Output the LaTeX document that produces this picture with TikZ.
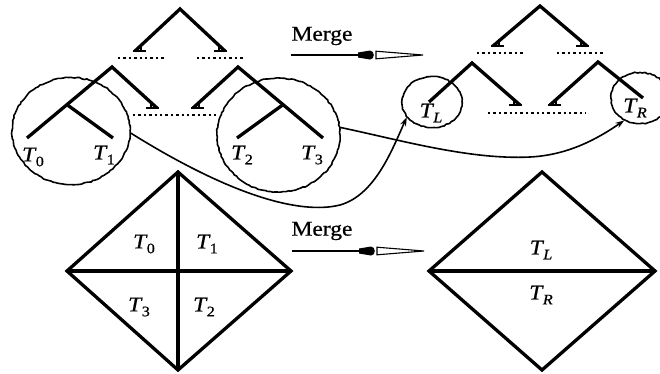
\documentclass[tikz,border=0pt]{standalone}
\usepackage{fontspec}
\setmainfont{Liberation Serif}
\newfontfamily\labfont[FakeStretch=1.12,FakeBold=0.6]{Liberation Serif}
\usetikzlibrary{calc,arrows.meta,shapes.geometric,decorations.pathmorphing}
\newcommand\TT[1]{\textit{T}\kern-0.04em\raisebox{-0.5ex}{\fontsize{14.5}{14.5}\selectfont #1}}
\begin{document}
\begin{tikzpicture}[x=1pt,y=-1pt,
  br/.style={line width=3.3pt,line cap=butt},
  tk/.style={line width=2.6pt},
  dots/.style={line width=2.6pt,dash pattern=on 2.4pt off 3pt},
  ring/.style={ellipse,draw,line width=1.6pt,inner sep=0pt,
     decorate,decoration={random steps,segment length=2.5pt,amplitude=0.6pt}},
  conn/.style={line width=1.6pt,-{Stealth[length=9pt,width=6pt]}},
  lab/.style={font=\labfont\fontsize{21}{21}\selectfont,inner sep=0pt},
  dia/.style={line width=3.3pt,line join=miter}]
\useasboundingbox (0,0) rectangle (660,373);

% ---------- left tree ----------
\coordinate (a) at (180,9);
\coordinate (a1) at (135,51);
\coordinate (a2) at (225,51);
\draw[br] (a1) -- (a) -- (a2);
\draw[tk] ($(a1)+(-2,0)$) -- ++(13,0) ($(a1)+(6,0)$) -- ++(0,-7);
\draw[tk] ($(a2)+(2,0)$) -- ++(-13,0) ($(a2)+(-6,0)$) -- ++(0,-7);
\coordinate (d1s) at (118,58); \coordinate (d1e) at (164,58);
\coordinate (d2s) at (197,58); \coordinate (d2e) at (243,58);
\draw[dots] (d1s) -- (d1e);
\draw[dots] (d2s) -- (d2e);

\coordinate (la) at (112,67);
\coordinate (l0) at (27,138);
\coordinate (lm) at ($(la)!0.53!(l0)$);
\coordinate (l1) at (113,138);
\coordinate (lr) at (157,108);
\draw[br] (l0) -- (la) -- (lr);
\draw[br] (lm) -- (l1);
\draw[tk] ($(lr)+(2,0)$) -- ++(-13,0) ($(lr)+(-6,0)$) -- ++(0,-7);

\coordinate (ra) at (238,67);
\coordinate (r3) at (323,138);
\coordinate (rm) at ($(ra)!0.53!(r3)$);
\coordinate (r2) at (237,138);
\coordinate (rl) at (193,108);
\draw[br] (rl) -- (ra) -- (r3);
\draw[br] (rm) -- (r2);
\draw[tk] ($(rl)+(-2,0)$) -- ++(13,0) ($(rl)+(6,0)$) -- ++(0,-7);
\coordinate (d3s) at (133,115); \coordinate (d3e) at (216,115);
\draw[dots] (d3s) -- (d3e);

\node[lab] (t0) at (33,157) {\TT{0}};
\node[lab] (t1) at (104,155) {\TT{1}};
\node[lab] (t2) at (242,155) {\TT{2}};
\node[lab] (t3) at (312,155) {\TT{3}};

\node[ring,minimum width=118pt,minimum height=107pt] (lc) at (71,131) {};
\node[ring,minimum width=123pt,minimum height=114pt] (rc) at (278.5,135) {};

% ---------- right tree ----------
\coordinate (b) at (540,6);
\coordinate (b1) at (493,46);
\coordinate (b2) at (587,46);
\draw[br] (b1) -- (b) -- (b2);
\draw[tk] ($(b1)+(-2,0)$) -- ++(13,0) ($(b1)+(6,0)$) -- ++(0,-7);
\draw[tk] ($(b2)+(2,0)$) -- ++(-13,0) ($(b2)+(-6,0)$) -- ++(0,-7);
\coordinate (e1s) at (477,53); \coordinate (e1e) at (523,53);
\coordinate (e2s) at (557,53); \coordinate (e2e) at (604,53);
\draw[dots] (e1s) -- (e1e);
\draw[dots] (e2s) -- (e2e);

\coordinate (ba) at (472,63);
\coordinate (bl) at (429,102);
\coordinate (br1) at (520,105);
\draw[br] (bl) -- (ba) -- (br1);
\draw[tk] ($(br1)+(2,0)$) -- ++(-13,0) ($(br1)+(-6,0)$) -- ++(0,-7);
\coordinate (bb) at (598,62);
\coordinate (bbl) at (550,105);
\coordinate (bbr) at (643,98);
\draw[br] (bbl) -- (bb) -- (bbr);
\draw[tk] ($(bbl)+(-2,0)$) -- ++(13,0) ($(bbl)+(6,0)$) -- ++(0,-7);
\coordinate (e3s) at (488,113); \coordinate (e3e) at (586,113);
\draw[dots] (e3s) -- (e3e);

\node[lab] (tl) at (431,113) {\TT{\textit{L}}};
\node[lab] (tr) at (635,108) {\TT{\textit{R}}};
\node[ring,minimum width=60pt,minimum height=51pt] (tlc) at (432,102) {};
\node[ring,minimum width=58pt,minimum height=51pt] (trc) at (640,98) {};

% ---------- connectors ----------
\draw[conn] (lc.-2) .. controls (230,195) and (300,215) .. (340,205)
   .. controls (375,195) and (392,150) .. (tlc.211);
\draw[conn] (rc.7) .. controls (400,140) and (470,160) .. (530,157)
   .. controls (570,155) and (600,137) .. (trc.235);

% ---------- merge arrows ----------
\node[lab] (m1) at (322,36) {Merge};
\coordinate (m1s) at (291,55);
\draw[line width=2.8pt] (m1s) -- ++(72,0);
\fill ($(m1s)+(67,-2.5)$) -- ++(12,-2) .. controls ++(5,0) and ++(5,0) .. ++(0,9) -- ++(-12,-2) -- cycle;
\draw[line width=1.1pt,fill=white] ($(m1s)+(85,-3.8)$) -- ++(47,3.8) -- ++(-47,3.8) -- cycle;

\node[lab] (m2) at (322,231) {Merge};
\coordinate (m2s) at (292,251);
\draw[line width=2.8pt] (m2s) -- ++(72,0);
\fill ($(m2s)+(67,-2.5)$) -- ++(12,-2) .. controls ++(5,0) and ++(5,0) .. ++(0,9) -- ++(-12,-2) -- cycle;
\draw[line width=1.1pt,fill=white] ($(m2s)+(85,-3.8)$) -- ++(47,3.8) -- ++(-47,3.8) -- cycle;

% ---------- left diamond ----------
\coordinate (pl) at (67,271);
\coordinate (pr) at (291,271);
\coordinate (pt) at (178,172);
\coordinate (pb) at (178,370);
\draw[dia] (pl) -- (pt) -- (pr) -- (pb) -- cycle;
\draw[dia] (pl) -- (pr);
\draw[dia] (pt) -- (pb);
\node[lab] (q0) at (144,244) {\TT{0}};
\node[lab] (q1) at (207,244) {\TT{1}};
\node[lab] (q3) at (139,307) {\TT{3}};
\node[lab] (q2) at (204,307) {\TT{2}};

% ---------- right diamond ----------
\coordinate (sl) at (429,271);
\coordinate (sr) at (655,271);
\coordinate (st) at (542,172);
\coordinate (sb) at (542,370);
\draw[dia] (sl) -- (st) -- (sr) -- (sb) -- cycle;
\draw[dia] (sl) -- (sr);
\node[lab] (ql) at (541,250) {\TT{\textit{L}}};
\node[lab] (qr) at (541,295) {\TT{\textit{R}}};
\end{tikzpicture}
\end{document}
